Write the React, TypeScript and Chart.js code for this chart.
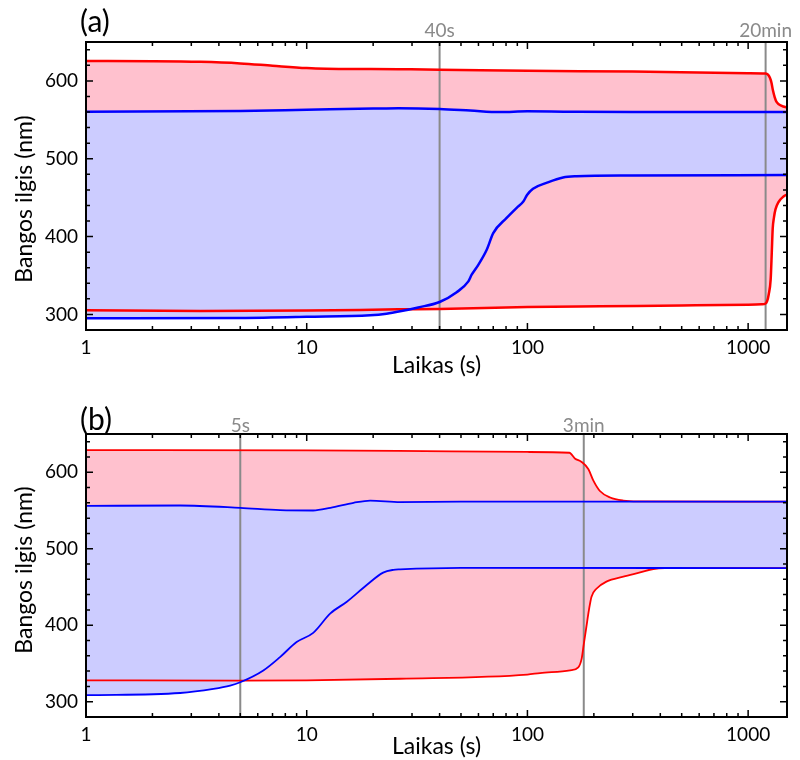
import React, { useEffect, useRef } from 'react';
import { Chart, registerables } from 'chart.js';

Chart.register(...registerables);

// ---------- Panel (a) data ----------
const aRedTopT = [1, 2, 3.3, 5, 7, 10, 11, 26, 40, 100, 300, 1000, 1200, 1230, 1255, 1275, 1295, 1320, 1345, 1420, 1500];
const aRedTopV = [625.5, 625.3, 624.5, 622.5, 619.5, 616.5, 616, 615, 614.5, 613, 612, 610, 609.5, 608, 604, 598, 588, 579, 573, 568, 566];
const aRedBotT = [1, 3.3, 10, 26, 40, 100, 213, 500, 1000, 1150, 1200, 1219, 1240, 1265, 1280, 1292, 1310, 1330, 1370, 1446, 1500];
const aRedBotV = [305.5, 304.5, 305, 306.5, 307, 309.5, 310.5, 311.5, 312.5, 313, 314, 317, 326, 345, 380, 410, 425, 435, 444, 451.5, 454];
const aBlueTopT = [1, 5, 10, 20, 26, 40, 55, 75, 100, 150, 300, 700, 1500];
const aBlueTopV = [560.5, 561.5, 563, 564.5, 565, 564, 562, 560, 561, 560.5, 560, 560, 560];
const aBlueBotT = [1, 5, 10, 19.4, 23, 26.5, 32, 40, 47.8, 54, 55.9, 60, 65.4, 70, 80.5, 89.4, 95.8, 99.6, 106, 122, 145, 167, 300, 1500];
const aBlueBotV = [295, 295.5, 297, 299, 301, 304, 309, 316, 328.5, 342.5, 351, 364, 383, 404.5, 424, 437, 445, 453.5, 461.5, 469, 476, 477.5, 478.5, 479];
const aMarkT = [40, 1200];
const aMarkLabel = ['40s', '20min'];

// ---------- Panel (b) data ----------
const bRedTopT = [1, 10, 26, 100, 155, 164, 176, 189, 199, 213, 237, 272, 320, 1500];
const bRedTopV = [629, 628.5, 628, 626.5, 625.5, 618, 613.5, 604, 589, 575.5, 567, 563, 562, 561.5];
const bRedBotT = [1, 5, 10, 26.5, 100, 114, 156, 170, 176, 180, 185, 190, 195, 206, 228, 272, 324, 372, 420, 1500];
const bRedBotV = [328, 327.5, 328, 330, 335.5, 337.5, 341, 345, 356, 375, 398, 420, 437, 448, 457, 463.5, 469, 473.5, 474.6, 474.6];
const bBlueTopT = [1, 2.67, 5, 7.57, 10.7, 12.8, 16.3, 19.4, 26.5, 50, 100, 1500];
const bBlueTopV = [556, 556.5, 553.5, 550.5, 550, 553.5, 560, 563, 561, 561.5, 561.5, 561.5];
const bBlueBotT = [1, 2.67, 3.78, 4.5, 5, 6.36, 7.57, 9, 10.7, 12.8, 15.2, 18.7, 22.2, 24.7, 26.5, 50, 1500];
const bBlueBotV = [308.5, 311.4, 316.7, 321, 325.4, 340.8, 358.3, 378, 390, 415.4, 430.7, 452.6, 468.8, 472.4, 473, 475, 474.6];
const bMarkT = [5, 180];
const bMarkLabel = ['5s', '3min'];

// ---------- Axes ----------
const xMin = 1;
const xMax = 1500;
const yMin = 280;
const yMax = 650;
const xMajor = [1, 10, 100, 1000];
const xMinor = [2, 3, 4, 5, 6, 7, 8, 9, 20, 30, 40, 50, 60, 70, 80, 90, 200, 300, 400, 500, 600, 700, 800, 900];
const yMajor = [300, 400, 500, 600];
const yMinor = [320, 340, 360, 380, 420, 440, 460, 480, 520, 540, 560, 580, 620, 640];
const xTitle = 'Laikas (s)';
const yTitle = 'Bangos ilgis (nm)';

const RED = '#ff0000';
const BLUE = '#0000ff';
const PINK = 'rgb(255,193,206)';
const LAV = 'rgb(204,204,255)';
const GRAY = '#8a8a8a';
const FONT = 'Lato';

type Panel = {
  tag: string;
  redTop: [number[], number[]];
  redBot: [number[], number[]];
  blueTop: [number[], number[]];
  blueBot: [number[], number[]];
  markT: number[];
  markLabel: string[];
  padTop: number;
  axisH: number;
  tagY: number;
  markGap: number;
  yTitleY: number;
  lw: number;
  tickPad: number;
  titlePad: number;
};

const pts = (t: number[], v: number[]) => t.map((x, i) => ({ x, y: v[i] }));

function PanelChart({ p, top }: { p: Panel; top: number }) {
  const ref = useRef<HTMLCanvasElement | null>(null);
  useEffect(() => {
    if (!ref.current) return;
    const deco = {
      id: 'deco',
      beforeDatasetsDraw(chart: any) {
        const { ctx, chartArea: ca } = chart;
        const xs = chart.scales.x;
        ctx.save();
        ctx.strokeStyle = GRAY;
        ctx.lineWidth = 2;
        p.markT.forEach((t) => {
          const x = xs.getPixelForValue(t);
          ctx.beginPath();
          ctx.moveTo(x, ca.top);
          ctx.lineTo(x, ca.bottom);
          ctx.stroke();
        });
        ctx.restore();
      },
      afterDraw(chart: any) {
        const { ctx, chartArea: ca } = chart;
        const xs = chart.scales.x;
        const ys = chart.scales.y;
        ctx.save();
        // ticks
        ctx.strokeStyle = '#000';
        ctx.lineWidth = 1.5;
        const vt = (x: number, len: number) => {
          ctx.beginPath();
          ctx.moveTo(x, ca.bottom);
          ctx.lineTo(x, ca.bottom - len);
          ctx.moveTo(x, ca.top);
          ctx.lineTo(x, ca.top + len);
          ctx.stroke();
        };
        const ht = (y: number, len: number) => {
          ctx.beginPath();
          ctx.moveTo(ca.left, y);
          ctx.lineTo(ca.left + len, y);
          ctx.moveTo(ca.right, y);
          ctx.lineTo(ca.right - len, y);
          ctx.stroke();
        };
        xMajor.forEach((v) => vt(xs.getPixelForValue(v), 7));
        xMinor.forEach((v) => vt(xs.getPixelForValue(v), 4));
        yMajor.forEach((v) => ht(ys.getPixelForValue(v), 7));
        yMinor.forEach((v) => ht(ys.getPixelForValue(v), 4));
        // frame
        ctx.lineWidth = 2;
        ctx.strokeRect(ca.left, ca.top, ca.right - ca.left, ca.bottom - ca.top);
        // marker labels
        ctx.fillStyle = GRAY;
        ctx.font = `19px ${FONT}`;
        ctx.textAlign = 'center';
        ctx.textBaseline = 'alphabetic';
        p.markT.forEach((t, i) => {
          ctx.fillText(p.markLabel[i], xs.getPixelForValue(t), ca.top - p.markGap);
        });
        // panel tag
        ctx.fillStyle = '#000';
        ctx.font = `30px ${FONT}`;
        ctx.textAlign = 'left';
        ctx.textBaseline = 'middle';
        ctx.fillText(p.tag, 80, p.tagY);
        // y title
        ctx.font = `23px ${FONT}`;
        ctx.translate(25, p.yTitleY);
        ctx.rotate(-Math.PI / 2);
        ctx.textAlign = 'center';
        ctx.textBaseline = 'middle';
        ctx.fillText(yTitle, 0, 0);
        ctx.restore();
      },
    };
    const ds = (d: [number[], number[]], color: string, fill: any, bg?: string) => ({
      data: pts(d[0], d[1]),
      borderColor: color,
      backgroundColor: bg || color,
      borderWidth: p.lw,
      pointRadius: 0,
      fill,
      cubicInterpolationMode: 'monotone' as const,
    });
    const chart = new Chart(ref.current, {
      type: 'line',
      data: {
        datasets: [
          ds(p.blueTop, BLUE, '+1', LAV),
          ds(p.blueBot, BLUE, false),
          ds(p.redTop, RED, '+1', PINK),
          ds(p.redBot, RED, false),
        ],
      },
      options: {
        animation: false,
        responsive: false,
        events: [],
        layout: { padding: { left: 0, right: 13, top: p.padTop, bottom: 0 } },
        plugins: {
          legend: { display: false },
          tooltip: { enabled: false },
          filler: { drawTime: 'beforeDatasetsDraw' },
        } as any,
        scales: {
          x: {
            type: 'logarithmic',
            min: xMin,
            max: xMax,
            grid: { display: true, drawOnChartArea: false, drawTicks: false },
            border: { display: false },
            afterBuildTicks: (s: any) => {
              s.ticks = xMajor.map((v) => ({ value: v }));
            },
            afterFit: (s: any) => {
              s.height = p.axisH;
            },
            ticks: {
              autoSkip: false,
              maxRotation: 0,
              padding: p.tickPad,
              color: '#000',
              font: { family: FONT, size: 19 },
              callback: (v: any) => String(v),
            },
            title: {
              display: true,
              text: xTitle,
              color: '#000',
              font: { family: FONT, size: 23 },
              padding: { top: 0, bottom: p.titlePad },
            },
          },
          y: {
            type: 'linear',
            min: yMin,
            max: yMax,
            grid: { display: true, drawOnChartArea: false, drawTicks: false },
            border: { display: false },
            afterBuildTicks: (s: any) => {
              s.ticks = yMajor.map((v) => ({ value: v }));
            },
            afterFit: (s: any) => {
              s.width = 86;
            },
            ticks: {
              padding: 8,
              color: '#000',
              font: { family: FONT, size: 19 },
              callback: (v: any) => String(v),
            },
          },
        },
      },
      plugins: [deco],
    });
    return () => chart.destroy();
  }, []);
  return (
    <div style={{ position: 'absolute', left: 0, top, width: 800, height: 380 }}>
      <canvas ref={ref} width={800} height={380} style={{ width: 800, height: 380 }} />
    </div>
  );
}

const panelA: Panel = {
  tag: '(a)',
  redTop: [aRedTopT, aRedTopV],
  redBot: [aRedBotT, aRedBotV],
  blueTop: [aBlueTopT, aBlueTopV],
  blueBot: [aBlueBotT, aBlueBotV],
  markT: aMarkT,
  markLabel: aMarkLabel,
  padTop: 42,
  axisH: 50,
  tagY: 22,
  markGap: 5,
  yTitleY: 199,
  lw: 2.5,
  tickPad: 6,
  titlePad: 1,
};

const panelB: Panel = {
  tag: '(b)',
  redTop: [bRedTopT, bRedTopV],
  redBot: [bRedBotT, bRedBotV],
  blueTop: [bBlueTopT, bBlueTopV],
  blueBot: [bBlueBotT, bBlueBotV],
  markT: bMarkT,
  markLabel: bMarkLabel,
  padTop: 54,
  axisH: 43,
  tagY: 40,
  markGap: 2,
  yTitleY: 190,
  lw: 1.8,
  tickPad: 6,
  titlePad: 0,
};

export default function App() {
  return (
    <div style={{ position: 'absolute', left: 0, top: 0, width: 800, height: 760, background: '#fff' }}>
      <PanelChart p={panelA} top={0} />
      <PanelChart p={panelB} top={380} />
    </div>
  );
}
